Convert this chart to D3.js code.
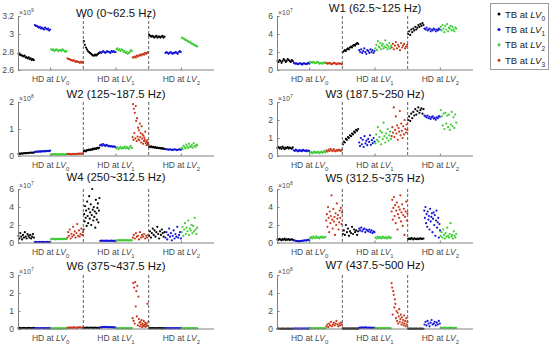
<!DOCTYPE html>
<html>
<head>
<meta charset="utf-8">
<script src="https://cdn.jsdelivr.net/npm/d3@7"></script>
<style>
  body { margin: 0; background: #fff; }
  text { font-family: "Liberation Sans", Arial, sans-serif; }
</style>
</head>
<body>
<svg id="chart" width="550" height="345"></svg>
<script>
// Panel descriptions
const titles = ["W0 (0~62.5 Hz)", "W1 (62.5~125 Hz)", "W2 (125~187.5 Hz)", "W3 (187.5~250 Hz)",
  "W4 (250~312.5 Hz)", "W5 (312.5~375 Hz)", "W6 (375~437.5 Hz)", "W7 (437.5~500 Hz)"];
const exponents = [9, 7, 8, 7, 7, 8, 7, 8];
const yDomains = [[2.6, 3.2], [0, 6], [0, 2], [0, 3], [0, 6], [0, 6], [0, 3], [0, 6]];
const yTicks = [[2.6, 2.8, 3, 3.2], [0, 2, 4, 6], [0, 1, 2], [0, 1, 2, 3],
  [0, 2, 4, 6], [0, 2, 4, 6], [0, 1, 2, 3], [0, 2, 4, 6]];
const hdLevels = ["0", "1", "2"];
const tbLevels = ["0", "1", "2", "3"];
const tbColors = ["#000000", "#1414d4", "#3ccc34", "#c8381c"];

// Values (in units of 10^exponent), per HD section -> per TB level
const w0 = [
  [[2.78,2.77,2.77,2.76,2.76,2.75,2.76,2.74,2.74,2.73,2.74,2.72,2.73,2.71,2.72,2.71],
   [3.10,3.09,3.09,3.08,3.07,3.08,3.06,3.07,3.06,3.05,3.07,3.06,3.05,3.06,3.04,3.05],
   [2.83,2.82,2.83,2.81,2.82,2.83,2.82,2.81,2.82,2.82,2.81,2.83,2.82,2.81,2.80,2.81],
   [2.73,2.72,2.72,2.71,2.71,2.70,2.71,2.70,2.69,2.70,2.69,2.69,2.68,2.69,2.68,2.69]],
  [[2.92,2.88,2.85,2.83,2.81,2.80,2.79,2.78,2.77,2.76,2.76,2.77,2.76,2.77,2.78,2.79],
   [2.80,2.79,2.80,2.81,2.80,2.79,2.80,2.81,2.80,2.80,2.79,2.81,2.80,2.81,2.80,2.80],
   [2.83,2.84,2.82,2.83,2.81,2.83,2.82,2.80,2.81,2.79,2.80,2.78,2.79,2.80,2.82,2.81],
   [2.74,2.74,2.75,2.74,2.76,2.75,2.76,2.77,2.76,2.77,2.78,2.77,2.79,2.78,2.79,2.80]],
  [[2.99,2.98,2.97,2.98,2.97,2.96,2.97,2.98,2.96,2.97,2.97,2.96,2.97,2.98,2.96,2.97],
   [2.79,2.80,2.79,2.78,2.79,2.80,2.79,2.78,2.79,2.79,2.80,2.79,2.78,2.80,2.81,2.80],
   [2.96,2.95,2.95,2.94,2.93,2.93,2.92,2.91,2.91,2.90,2.89,2.89,2.88,2.87,2.87,2.86]]
];
const w1 = [
  [[1.0,0.9,1.1,1.0,0.8,1.0,1.2,1.1,0.9,1.0,1.2,1.1,1.0,0.9,1.1,1.0],
   [0.8,0.7,0.75,0.7,0.65,0.7,0.75,0.7,0.6,0.7,0.75,0.7,0.65,0.7,0.8,0.7],
   [0.9,0.85,0.8,0.9,0.85,0.75,0.8,0.9,0.85,0.7,0.8,0.75,0.7,0.8,0.85,0.75],
   [0.8,0.7,0.75,0.8,0.7,0.65,0.7,0.8,0.75,0.7,0.65,0.7,0.75,0.7,0.7,0.65]],
  [[2.0,2.1,2.2,2.1,2.3,2.4,2.3,2.5,2.6,2.5,2.7,2.8,2.7,2.9,3.0,2.9],
   [2.2,2.0,2.3,1.9,2.1,2.4,2.0,1.8,2.2,2.1,1.9,2.3,2.0,2.2,1.9,2.1],
   [2.4,2.8,2.2,3.2,2.6,2.5,3.0,2.3,2.7,2.9,2.4,2.6,3.3,2.5,2.8,2.3,2.6,3.0,2.4,2.7],
   [2.5,2.9,2.3,2.7,3.1,2.4,2.8,2.6,2.2,3.0,2.5,2.7,2.9,2.4,2.6,2.8]],
  [[4.0,4.3,3.9,4.5,4.2,4.6,4.4,4.8,4.5,4.7,5.0,4.8,5.1,4.9,5.2,5.0],
   [4.6,4.5,4.7,4.4,4.5,4.6,4.3,4.5,4.4,4.6,4.5,4.3,4.5,4.4,4.6,4.5],
   [4.8,4.4,5.0,4.6,4.2,4.9,4.5,5.1,4.3,4.7,4.6,4.9,4.4,4.8,4.5,4.3,4.7,4.6]]
];
const w2 = [
  [[0.08,0.09,0.08,0.10,0.09,0.10,0.11,0.10,0.11,0.12,0.11,0.12,0.13,0.12,0.13,0.12],
   [0.15,0.16,0.15,0.17,0.16,0.17,0.16,0.18,0.17,0.18,0.17,0.19,0.18,0.19,0.18,0.20],
   [0.06,0.05,0.07,0.06,0.08,0.05,0.06,0.07,0.06,0.05,0.08,0.06,0.07,0.05,0.06,0.07],
   [0.08,0.07,0.08,0.07,0.06,0.07,0.08,0.07,0.08,0.07,0.08,0.09,0.08,0.09,0.08,0.10]],
  [[0.18,0.20,0.17,0.22,0.21,0.24,0.22,0.25,0.23,0.27,0.25,0.28,0.26,0.30,0.28,0.31],
   [0.40,0.42,0.38,0.44,0.40,0.37,0.41,0.39,0.36,0.38,0.35,0.37,0.34,0.36,0.35,0.33],
   [0.28,0.32,0.25,0.30,0.34,0.27,0.31,0.29,0.35,0.28,0.33,0.30,0.26,0.32,0.38,0.30],
   [0.70,1.92,0.60,1.75,0.85,1.60,0.65,1.85,1.30,0.55,1.40,0.72,1.05,0.62,0.95,0.58,1.20,0.70,
    0.85,0.50,1.10,0.64,0.80,0.45,0.75,0.55,0.68,0.60,0.90,0.48,0.52,0.40,0.58,0.45,0.50,0.42]],
  [[0.35,0.33,0.36,0.32,0.34,0.31,0.33,0.30,0.31,0.29,0.30,0.28,0.29,0.27,0.28,0.26],
   [0.26,0.24,0.25,0.23,0.25,0.24,0.22,0.24,0.23,0.25,0.24,0.22,0.23,0.24,0.25,0.23],
   [0.30,0.25,0.38,0.32,0.28,0.42,0.35,0.30,0.45,0.36,0.33,0.40,0.31,0.48,0.37,0.34,0.42,0.39]]
];
const w3 = [
  [[0.45,0.50,0.42,0.48,0.40,0.52,0.45,0.38,0.47,0.43,0.50,0.41,0.46,0.44,0.40,0.48],
   [0.32,0.28,0.35,0.30,0.26,0.33,0.29,0.31,0.27,0.34,0.30,0.28,0.32,0.26,0.30,0.29],
   [0.18,0.22,0.15,0.20,0.24,0.17,0.21,0.19,0.23,0.16,0.20,0.25,0.18,0.22,0.28,0.20],
   [0.30,0.25,0.35,0.28,0.40,0.32,0.27,0.38,0.30,0.26,0.33,0.29,0.36,0.31,0.28,0.34]],
  [[0.65,0.80,0.75,0.95,0.90,1.05,1.00,1.15,1.10,1.25,1.20,1.35,1.30,1.45,1.40,1.50],
   [0.75,0.55,1.00,0.65,0.90,0.50,1.10,0.70,0.85,0.60,0.95,0.78,1.15,0.62,0.88,0.72,1.00,0.80],
   [0.70,1.20,0.90,1.60,0.80,1.05,1.40,0.65,1.30,0.95,1.85,1.10,0.75,1.25,1.00,1.50,0.85,1.15,1.35,0.95],
   [1.10,1.60,1.30,2.70,1.05,1.45,2.20,1.25,1.70,0.90,1.55,1.35,2.50,1.15,1.80,1.40,1.00,1.65,
    1.20,2.00,1.50,1.30,1.75,1.45]],
  [[2.00,2.20,1.95,2.35,2.10,2.45,2.25,2.60,2.30,2.50,2.70,2.40,2.55,2.65,2.35,2.60],
   [2.25,2.20,2.15,2.25,2.10,2.18,2.05,2.15,2.20,2.08,2.12,2.02,2.15,2.10,2.22,2.18],
   [2.55,2.20,1.70,2.35,1.50,2.40,1.80,2.25,1.60,2.30,1.45,1.75,2.45,1.65,2.15,1.55,2.30,1.85]]
];
const w4 = [
  [[0.8,0.5,1.1,0.7,0.4,0.9,0.6,1.2,0.7,0.5,1.0,0.8,0.6,0.9,0.5,0.7,1.0,0.6],
   [0.10,0.12,0.10,0.11,0.10,0.12,0.11,0.10,0.12,0.10,0.11,0.10,0.12,0.11,0.10,0.11],
   [0.45,0.42,0.48,0.44,0.40,0.46,0.43,0.47,0.41,0.45,0.44,0.48,0.42,0.46,0.44,0.43],
   [0.6,1.2,0.8,1.5,0.5,1.0,0.7,1.8,0.9,1.3,0.6,1.1,2.1,0.8,1.4,0.7,1.0,1.6,0.9,1.2]],
  [[1.5,3.2,2.4,4.1,2.8,3.6,1.9,4.6,3.0,2.2,3.8,5.2,2.7,3.4,4.3,2.0,3.1,6.0,3.7,2.5,
    4.0,2.9,3.5,1.7,4.8,3.3,2.6,3.9,4.4,2.3,3.6,5.0],
   [0.25,0.24,0.26,0.25,0.24,0.25,0.26,0.24,0.25,0.24,0.25,0.26,0.24,0.25,0.24,0.25],
   [0.30,0.28,0.32,0.29,0.31,0.30,0.28,0.31,0.29,0.30,0.32,0.28,0.30,0.29,0.31,0.30],
   [0.6,0.9,0.5,1.1,0.7,0.8,0.4,1.2,0.6,0.9,0.7,1.0,0.5,0.8,0.6,0.9]],
  [[0.8,1.3,0.6,1.1,1.6,0.9,1.4,0.7,1.2,1.8,1.0,0.5,1.3,0.9,1.5,1.1,0.7,1.2],
   [0.6,1.2,0.4,0.9,1.6,0.7,1.1,0.3,0.8,1.4,0.5,1.0,0.7,1.8,0.6,0.9,1.2,0.5],
   [1.2,1.8,0.8,1.5,2.2,1.0,1.7,1.3,2.5,0.9,1.6,1.4,2.0,1.1,1.9,1.3,2.8,1.5,1.0,1.7]]
];
const w5 = [
  [[0.40,0.35,0.45,0.38,0.30,0.42,0.36,0.48,0.33,0.40,0.37,0.44,0.32,0.39,0.41,0.35],
   [0.30,0.28,0.25,0.20,0.22,0.18,0.20,0.24,0.22,0.26,0.28,0.30,0.27,0.32,0.35,0.30],
   [0.55,0.65,0.50,0.70,0.60,0.55,0.75,0.58,0.62,0.52,0.68,0.60,0.72,0.57,0.64,0.66],
   [2.5,3.2,1.8,4.0,2.8,1.2,3.5,2.2,3.0,5.3,2.6,1.6,3.8,2.4,2.9,0.9,3.3,2.0,4.4,2.7,
    3.1,1.5,2.3,3.6,2.8,3.9,2.1,3.4]],
  [[1.0,1.4,0.9,2.0,1.2,1.6,0.8,1.3,1.1,1.8,1.0,1.5,1.2,1.4,0.9,1.3],
   [1.6,1.4,1.7,1.3,1.5,1.6,1.2,1.5,1.4,1.3,1.5,1.2,1.4,1.1,1.3,1.2],
   [0.6,0.5,0.7,0.55,0.65,0.6,0.5,0.7,0.6,0.55,0.65,0.5,0.6,0.7,0.55,0.6],
   [3.5,4.8,2.6,3.9,5.1,3.0,4.2,2.2,3.6,4.5,1.5,3.2,4.0,2.8,3.7,5.3,2.4,3.4,4.3,1.9,
    3.1,3.8,0.9,2.9,3.5,4.6,2.5,3.3]],
  [[0.45,0.50,0.42,0.55,0.48,0.40,0.52,0.46,0.44,0.50,0.42,0.48,0.53,0.45,0.47,0.50],
   [3.6,2.8,4.0,2.2,3.2,1.8,3.5,2.6,3.0,1.5,3.8,2.4,2.9,3.3,1.2,2.7,3.4,2.0,3.1,0.8,
    2.5,3.6,1.7,2.3,2.8,0.6,2.1,1.4],
   [0.8,1.2,0.6,1.5,0.9,0.5,1.1,0.7,1.7,0.8,0.6,1.0,2.2,0.7,0.9,0.5,1.3,0.8,0.6,1.0]]
];
const w6 = [
  [[0.05,0.06,0.05,0.04,0.05,0.06,0.05,0.05,0.04,0.05,0.06,0.05,0.04,0.05,0.05,0.06],
   [0.04,0.05,0.04,0.05,0.04,0.04,0.05,0.04,0.05,0.04,0.04,0.05,0.04,0.05,0.04,0.04],
   [0.03,0.04,0.03,0.04,0.03,0.03,0.04,0.03,0.04,0.03,0.03,0.04,0.03,0.04,0.03,0.03],
   [0.06,0.08,0.05,0.09,0.07,0.06,0.10,0.07,0.08,0.06,0.09,0.07,0.11,0.08,0.07,0.09]],
  [[0.06,0.07,0.06,0.08,0.07,0.06,0.07,0.08,0.07,0.06,0.07,0.08,0.07,0.06,0.07,0.06],
   [0.08,0.10,0.09,0.11,0.10,0.12,0.10,0.11,0.09,0.10,0.11,0.09,0.10,0.08,0.09,0.08],
   [0.04,0.05,0.04,0.05,0.04,0.05,0.04,0.05,0.04,0.05,0.04,0.05,0.04,0.05,0.04,0.05],
   [0.60,2.55,0.45,2.30,0.30,2.60,1.25,2.10,0.70,2.40,0.20,1.80,0.55,0.35,0.15,0.40,0.25,0.50,
    0.10,0.30,0.20,0.45,0.15,0.25,0.35,0.12,0.20,0.30,1.40,0.18,0.40]],
  [[0.04,0.05,0.04,0.05,0.04,0.05,0.04,0.04,0.05,0.04,0.05,0.04,0.05,0.04,0.04,0.05],
   [0.04,0.04,0.05,0.04,0.04,0.05,0.04,0.04,0.05,0.04,0.04,0.05,0.04,0.04,0.05,0.04],
   [0.04,0.05,0.04,0.04,0.05,0.04,0.05,0.04,0.04,0.05,0.04,0.05,0.04,0.04,0.05,0.04]]
];
const w7 = [
  [[0.03,0.04,0.03,0.03,0.04,0.03,0.04,0.03,0.03,0.04,0.03,0.04,0.03,0.03,0.04,0.03],
   [0.04,0.05,0.04,0.04,0.05,0.04,0.05,0.04,0.04,0.05,0.04,0.05,0.04,0.04,0.05,0.04],
   [0.08,0.09,0.07,0.08,0.10,0.08,0.09,0.07,0.08,0.09,0.10,0.08,0.09,0.07,0.08,0.09],
   [0.3,0.5,0.2,0.6,0.4,0.8,0.3,0.5,0.7,0.4,0.6,0.9,0.5,0.3,0.6,0.4,0.7,0.5]],
  [[0.04,0.05,0.04,0.04,0.05,0.04,0.05,0.04,0.04,0.05,0.04,0.05,0.04,0.04,0.05,0.04],
   [0.12,0.15,0.13,0.17,0.14,0.16,0.18,0.15,0.14,0.16,0.13,0.15,0.12,0.14,0.13,0.12],
   [0.08,0.09,0.08,0.10,0.09,0.08,0.09,0.10,0.08,0.09,0.08,0.09,0.10,0.08,0.09,0.08],
   [5.1,4.6,1.6,4.2,3.8,2.4,3.3,2.8,1.2,2.0,0.9,1.8,0.6,1.4,2.2,0.8,1.1,1.6,0.5,1.3,
    0.7,1.0,0.4,1.5,0.6,0.9,0.3,1.2,0.5,0.8]],
  [[0.03,0.04,0.03,0.04,0.03,0.03,0.04,0.03,0.04,0.03,0.03,0.04,0.03,0.04,0.03,0.03],
   [0.5,0.8,0.4,0.9,0.6,0.3,0.7,1.0,0.5,0.6,0.8,0.4,0.7,0.5,0.9,0.6],
   [0.12,0.14,0.11,0.15,0.13,0.12,0.14,0.11,0.13,0.15,0.12,0.14,0.13,0.11,0.14,0.12]]
];
const panels = [w0, w1, w2, w3, w4, w5, w6, w7];

// Layout
const colX = [18, 277];
const rowY = [16, 102, 189, 275];
const plotW = 196, plotH = 54;
const titleY = [17, 12, 98, 98, 181, 182, 270, 269];
const axisColor = "#808080", labelColor = "#4a4a4a";

const svg = d3.select("#chart");

panels.forEach((data, p) => {
  const x0 = colX[p % 2], y0 = rowY[Math.floor(p / 2)];
  const x = d3.scaleLinear().domain([0, 12]).range([x0, x0 + plotW]);
  const y = d3.scaleLinear().domain(yDomains[p]).range([y0 + plotH, y0]);
  const g = svg.append("g").attr("class", "panel");

  // scatter points, one group per HD section / TB level
  data.forEach((section, s) => {
    section.forEach((vals, t) => {
      g.append("g")
        .selectAll("circle")
        .data(vals)
        .join("circle")
        .attr("cx", (d, k) => x(s * 4 + t + (k + 0.5) / vals.length))
        .attr("cy", (d) => y(d))
        .attr("r", 1.1)
        .attr("fill", tbColors[t]);
    });
  });

  // dashed separators between HD sections
  g.selectAll("line.sep")
    .data([4, 8])
    .join("line")
    .attr("class", "sep")
    .attr("x1", (d) => x(d))
    .attr("x2", (d) => x(d))
    .attr("y1", y0)
    .attr("y2", y0 + plotH)
    .attr("stroke", "#505050")
    .attr("stroke-width", 0.9)
    .attr("stroke-dasharray", "3,2");

  // y axis
  const yAxis = g.append("g")
    .attr("transform", `translate(${x0},0)`)
    .call(d3.axisLeft(y).tickValues(yTicks[p]).tickSizeInner(-2.5).tickSizeOuter(0)
      .tickPadding(4).tickFormat(d3.format("~g")));
  yAxis.select(".domain").attr("stroke", axisColor);
  yAxis.selectAll(".tick line").attr("stroke", axisColor);
  yAxis.selectAll(".tick text")
    .attr("fill", labelColor)
    .style("font-family", "'Liberation Sans', Arial, sans-serif")
    .style("font-size", "8.5px");

  // x axis line and section ticks
  g.append("line")
    .attr("x1", x0).attr("x2", x0 + plotW)
    .attr("y1", y0 + plotH).attr("y2", y0 + plotH)
    .attr("stroke", axisColor);
  g.selectAll("line.xtick")
    .data([2, 6, 10])
    .join("line")
    .attr("class", "xtick")
    .attr("x1", (d) => x(d)).attr("x2", (d) => x(d))
    .attr("y1", y0 + plotH).attr("y2", y0 + plotH - 2.5)
    .attr("stroke", axisColor);

  const xl = g.selectAll("text.xlab")
    .data(hdLevels)
    .join("text")
    .attr("class", "xlab")
    .attr("x", (d, i) => x(2 + i * 4))
    .attr("y", y0 + plotH + 12)
    .attr("text-anchor", "middle")
    .attr("fill", labelColor)
    .style("font-size", "8.5px");
  xl.append("tspan").text("HD at ");
  xl.append("tspan").style("font-style", "italic").text("LV");
  xl.append("tspan").attr("dy", 2.5).style("font-size", "6px").text((d) => d);

  // exponent label
  const ex = g.append("text")
    .attr("x", x0 + 1)
    .attr("y", y0 - 1)
    .attr("fill", labelColor)
    .style("font-size", "7px");
  ex.append("tspan").text("\u00d710");
  ex.append("tspan").attr("dy", -3).style("font-size", "5px").text(exponents[p]);

  // title
  g.append("text")
    .attr("x", x0 + plotW / 2)
    .attr("y", titleY[p])
    .attr("text-anchor", "middle")
    .attr("fill", "#111")
    .style("font-size", "11.4px")
    .text(titles[p]);
});

// Legend
const legend = svg.append("g").attr("class", "legend");
legend.append("rect")
  .attr("x", 490.5).attr("y", 3.5)
  .attr("width", 58).attr("height", 66)
  .attr("fill", "#fff")
  .attr("stroke", "#9a9a9a");
const items = legend.selectAll("g.item")
  .data(tbLevels)
  .join("g")
  .attr("class", "item")
  .attr("transform", (d, i) => `translate(0,${14 + i * 15.4})`);
items.append("circle")
  .attr("cx", 499).attr("cy", 0).attr("r", 1.5)
  .attr("fill", (d, i) => tbColors[i]);
const lt = items.append("text")
  .attr("x", 505).attr("y", 3.5)
  .attr("fill", "#222")
  .style("font-size", "9.5px");
lt.append("tspan").text("TB at ");
lt.append("tspan").style("font-style", "italic").text("LV");
lt.append("tspan").attr("dy", 3).style("font-size", "6.5px").text((d) => d);
</script>
</body>
</html>
